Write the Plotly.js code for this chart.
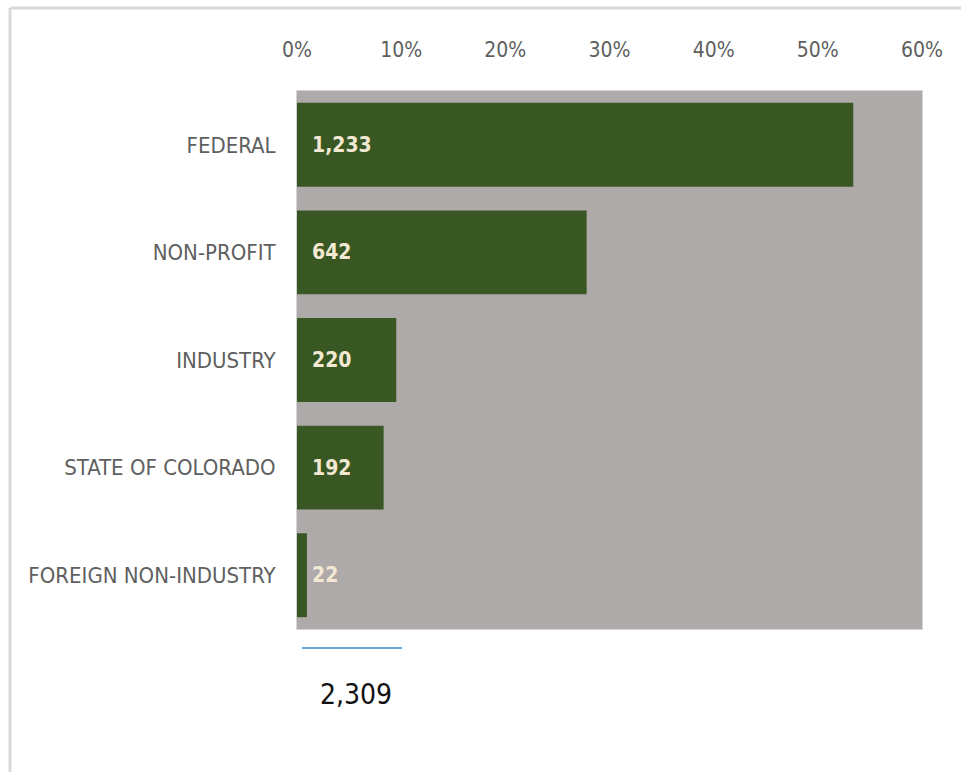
<!DOCTYPE html>
<html>
<head>
<meta charset="utf-8">
<script src="https://cdn.plot.ly/plotly-3.0.1.min.js"></script>
<style>html,body{margin:0;padding:0;background:#fff;}#chart{width:961px;height:772px;}</style>
</head>
<body>
<div id="chart"></div>
<script>
// Data
var categories = ["FEDERAL", "NON-PROFIT", "INDUSTRY", "STATE OF COLORADO", "FOREIGN NON-INDUSTRY"];
var counts = [1233, 642, 220, 192, 22];
var total = 2309;
var xTickValues = [0, 0.1, 0.2, 0.3, 0.4, 0.5, 0.6];
var xTickLabels = ["0%", "10%", "20%", "30%", "40%", "50%", "60%"];

var shares = counts.map(function (c) { return c / total; });
function fmt(n) { return n.toLocaleString("en-US"); }

var FONT = "'Liberation Sans Narrow', 'Arial Narrow', 'DejaVu Sans Condensed', sans-serif";

var trace = {
  type: "bar",
  orientation: "h",
  x: shares,
  y: categories,
  marker: { color: "#385723" },
  hoverinfo: "none",
  width: 0.78
};

var annotations = categories.map(function (cat, i) {
  return {
    x: 0, y: cat, xref: "x", yref: "y",
    xanchor: "left", yanchor: "middle",
    xshift: 13,
    text: fmt(counts[i]),
    showarrow: false,
    font: { family: FONT, size: 21, color: "#f3e8d2", weight: "bold" }
  };
});
annotations.push({
  x: 0.0944, y: -0.122, xref: "paper", yref: "paper",
  xanchor: "center", yanchor: "middle",
  text: fmt(total), showarrow: false,
  font: { family: FONT, size: 28, color: "#111111" }
});

var layout = {
  width: 961, height: 772,
  margin: { l: 297, r: 39, t: 91, b: 143, pad: 0 },
  paper_bgcolor: "#ffffff",
  plot_bgcolor: "#aeaaaa",
  showlegend: false,
  font: { family: FONT },
  xaxis: {
    side: "top",
    range: [0, 0.6],
    tickmode: "array",
    tickvals: xTickValues,
    ticktext: xTickLabels,
    showgrid: false, zeroline: false, ticks: "",
    tickfont: { family: FONT, size: 21, color: "#5f5f5f" },
    ticklabelstandoff: 25,
    showline: true, mirror: true, linecolor: "#d4d4d4", linewidth: 1,
    fixedrange: true
  },
  yaxis: {
    type: "category",
    autorange: "reversed",
    showgrid: false, zeroline: false, ticks: "",
    tickfont: { family: FONT, size: 22, color: "#5f5f5f" },
    ticklabelstandoff: 16,
    showline: true, mirror: true, linecolor: "#d4d4d4", linewidth: 1,
    fixedrange: true
  },
  annotations: annotations,
  shapes: [
    { type: "line", xref: "paper", yref: "paper", x0: 0.008, x1: 0.168, y0: -0.0353, y1: -0.0353,
      line: { color: "#6aa6dc", width: 2 } },
    { type: "line", xref: "paper", yref: "paper", x0: -0.4592, x1: 1.07, y0: 1.1543, y1: 1.1543,
      line: { color: "#d9d9d9", width: 3 } },
    { type: "line", xref: "paper", yref: "paper", x0: -0.4592, x1: -0.4592, y0: 1.1543, y1: -0.28,
      line: { color: "#d9d9d9", width: 3 } }
  ]
};

Plotly.newPlot("chart", [trace], layout, { displayModeBar: false, staticPlot: true });
</script>
</body>
</html>
